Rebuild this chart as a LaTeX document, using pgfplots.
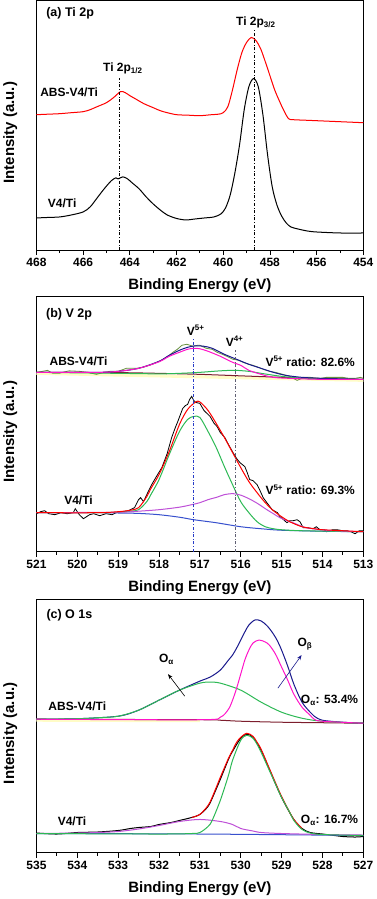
\documentclass[border=0pt]{standalone}
\usepackage{fontspec}
\setmainfont{Liberation Sans}
\usepackage{pgfplots}
\pgfplotsset{compat=1.18}
\usetikzlibrary{arrows.meta}

\definecolor{fitgreen}{RGB}{45,185,85}
\definecolor{fitmag}{RGB}{255,20,200}
\definecolor{fitviolet}{RGB}{190,80,215}
\definecolor{fitnavy}{RGB}{25,25,140}
\definecolor{basered}{RGB}{125,30,45}
\definecolor{baseblue}{RGB}{55,80,205}
\definecolor{rawolive}{RGB}{105,145,65}
\definecolor{lineblue}{RGB}{40,60,200}
\definecolor{linegray}{RGB}{95,95,115}

\tikzset{
  lab/.style={font=\bfseries\fontsize{12}{14}\selectfont},
  ttl/.style={font=\bfseries\fontsize{12.5}{15}\selectfont, anchor=west},
}
\pgfplotsset{
  xps/.style={
    scale only axis, width=326bp,
    x dir=reverse, clip=false,
    axis line style={line width=0.8bp},
    ytick=\empty, xtick pos=bottom, tick align=outside,
    major tick length=5bp, minor tick length=3bp,
    minor x tick num=1,
    every tick/.style={black, line width=0.8bp},
    tick label style={font=\bfseries\fontsize{12}{14}\selectfont},
    /pgf/number format/assume math mode=true,
    /pgf/number format/1000 sep={},
    xlabel={Binding Energy (eV)}, ylabel={Intensity (a.u.)},
    every axis x label/.style={at={(axis description cs:0.5,0)}, anchor=center,
      yshift=-36bp, font=\bfseries\fontsize{15}{18}\selectfont},
    every axis y label/.style={at={(axis description cs:-0.08,0.47)}, anchor=center,
      rotate=90, font=\bfseries\fontsize{15}{18}\selectfont},
    every axis plot/.append style={no marks, line width=1bp},
    ymin=0,
  },
}

\begin{document}
\begin{tikzpicture}

% (a) Ti 2p
\begin{axis}[xps, at={(0,601bp)}, height=249bp,
  xmin=454, xmax=468, ymax=249, xtick={454,456,...,468}]
\addplot[red, smooth] coordinates {
 (468,135) (467.5,135.5) (467,136) (466.5,137) (466,138) (465.7,140) (465.4,143)
 (465,147) (464.7,152) (464.4,158) (464.2,157) (464,154) (463.7,150) (463.4,146)
 (463,142) (462.7,139) (462.4,137) (462,135) (461.5,134.5) (461,134) (460.5,135)
 (460.2,135.5) (460,137) (459.8,143) (459.6,160) (459.4,180) (459.2,197) (459,207)
 (458.8,212) (458.6,209) (458.4,201) (458.2,188) (458,174) (457.8,160) (457.6,149)
 (457.4,139) (457.2,131) (457,130) (456.5,129.5) (456,129) (455,128) (454,127)};
\addplot[black, smooth] coordinates {
 (468,32) (467.5,32.5) (467,33) (466.5,35) (466,38) (465.7,43) (465.4,52) (465.1,61)
 (464.8,69) (464.6,72) (464.5,71) (464.3,73) (464.1,71) (463.9,67) (463.6,61) (463.3,53)
 (463,46) (462.7,40) (462.4,35) (462,31.5) (461.6,30) (461.2,31) (460.8,32) (460.4,33)
 (460.1,36) (459.9,42) (459.7,55) (459.5,77) (459.3,105) (459.1,140) (458.9,163)
 (458.7,171) (458.5,163) (458.3,135) (458.1,95) (457.9,63) (457.7,45) (457.5,34)
 (457.3,27) (457.1,23) (456.8,21) (456.4,19) (456,18) (455,17) (454,17)};
\draw[black, dash dot, line width=0.7bp] (axis cs:464.45,0) -- (axis cs:464.45,172);
\draw[black, dash dot, line width=0.7bp] (axis cs:458.65,0) -- (axis cs:458.65,219);
\node[ttl] at (axis cs:467.73,236) {(a) Ti 2p};
\node[lab] at (axis cs:466.6,157) {ABS-V4/Ti};
\node[lab] at (axis cs:466.9,47) {V4/Ti};
\node[lab] at (axis cs:464.3,181) {Ti 2p\textsubscript{1/2}};
\node[lab] at (axis cs:458.6,227) {Ti 2p\textsubscript{3/2}};
\end{axis}

% (b) V 2p
\begin{axis}[xps, at={(0,300bp)}, height=255bp,
  xmin=513, xmax=521, ymax=255, xtick={513,514,...,521}]
\addplot[yellow!22, line width=3bp] coordinates {(521,178) (513,171)};
\addplot[rawolive, line width=0.8bp] coordinates {
 (521,179) (520.85,180) (520.73,181) (520.6,178) (520.45,178) (520.36,179) (520.2,180.5)
 (519.95,180) (519.75,179) (519.53,177) (519.35,179) (519.2,180) (519,180) (518.8,183)
 (518.55,183) (518.4,184) (518.23,186) (518.05,189) (517.9,192) (517.75,196) (517.66,199)
 (517.55,202) (517.44,206) (517.32,207) (517.17,205) (517.05,206) (517,206) (516.85,203)
 (516.7,202) (516.58,199) (516.45,197) (516.34,195) (516.19,192) (516.05,191) (515.94,189)
 (515.8,187) (515.7,186) (515.6,184.5) (515.45,182) (515.3,180) (515.15,179) (514.97,177)
 (514.8,175) (514.62,171) (514.45,174) (514.3,174) (514.06,173) (513.9,174) (513.75,174)
 (513.5,174) (513.35,173) (513.2,173) (513.07,174) (513,173)};
\addplot[basered, smooth] coordinates {
 (521,179) (519,178.7) (518,178) (517,177) (516,175.5) (515,174) (514.5,173) (514,172.5) (513,172)};
\addplot[fitgreen, smooth] coordinates {
 (521,179) (519,178) (518,177.5) (517.5,178) (517,179) (516.5,180.5) (516.15,181)
 (515.8,180) (515.5,178) (515,175) (514.5,173) (514,172.5) (513,172)};
\addplot[fitnavy, smooth] coordinates {
 (521,179) (519.5,179) (519,180) (518.5,183) (518,190) (517.75,196) (517.5,201)
 (517.3,204) (517.1,205.5) (516.9,205) (516.7,203) (516.4,197) (516.1,192) (515.8,187)
 (515.5,183) (515.2,179) (514.9,176) (514.5,174) (514,173) (513,172)};
\addplot[fitmag, smooth] coordinates {
 (521,179) (519.5,179) (519,180) (518.5,183) (518,189.5) (517.75,195) (517.5,199)
 (517.3,202) (517.15,203) (517,202.5) (516.8,200) (516.5,195) (516.2,189) (516,186)
 (515.8,181) (515.5,177) (515.2,174) (514.8,173) (514,172) (513,172)};
% V4/Ti
\addplot[black, line width=0.8bp] coordinates {
 (521,38) (520.9,40) (520.8,41) (520.7,38) (520.55,37) (520.4,39) (520.25,38) (520.1,39)
 (520.05,43) (519.95,37) (519.85,33) (519.7,37) (519.6,38) (519.45,36) (519.3,38)
 (519.15,37) (519.05,39) (518.9,40) (518.75,41) (518.6,44) (518.5,52) (518.45,54)
 (518.38,50) (518.3,57) (518.18,67) (518.05,76) (517.93,84) (517.8,98) (517.69,114)
 (517.6,124) (517.54,130) (517.42,143) (517.35,146) (517.3,147) (517.25,152) (517.2,155)
 (517.15,151) (517.1,149) (517,148) (516.9,141) (516.75,135) (516.65,128) (516.58,125)
 (516.5,119) (516.39,114) (516.3,107) (516.19,99) (516.1,93) (516.02,89) (515.9,85)
 (515.85,80) (515.78,72) (515.7,71) (515.6,67) (515.55,63) (515.45,54) (515.36,49)
 (515.23,42) (515.1,39) (515.04,35) (514.95,32) (514.87,29) (514.8,31) (514.72,31)
 (514.62,32) (514.55,30) (514.47,24) (514.35,24) (514.23,23) (514.15,25) (514.06,22)
 (513.95,22) (513.9,20) (513.75,22) (513.64,22) (513.5,21) (513.4,21) (513.3,20)
 (513.2,18) (513.1,21) (513,21)};
\addplot[baseblue, smooth] coordinates {
 (521,39) (519.5,39) (519,38.7) (518.5,38.3) (518,37) (517.5,34.5) (517.15,32)
 (516.6,29) (516,25) (515.5,23) (515,21.5) (514,20.5) (513,20)};
\addplot[fitgreen, smooth] coordinates {
 (521,39) (519.5,39) (519,39.5) (518.7,40.5) (518.5,42) (518.3,50) (518.2,57) (518,72)
 (517.75,97) (517.5,120) (517.3,132) (517.15,135) (517,134) (516.8,120) (516.6,104)
 (516.4,85) (516.2,67) (516,50) (515.8,39) (515.6,30) (515.4,25) (515.2,23) (515,22)
 (514.5,21) (513,20)};
\addplot[fitviolet, smooth] coordinates {
 (521,39) (519,39.5) (518.5,40.5) (518,42) (517.5,44.5) (517.2,47) (517,49) (516.8,52)
 (516.58,54.5) (516.4,57) (516.19,58) (516,56.5) (515.8,53) (515.6,48.5) (515.36,42)
 (515.2,38) (515.04,34) (514.8,30) (514.72,29) (514.4,24) (514,22) (513.7,21) (513,20)};
\addplot[red, smooth] coordinates {
 (521,39) (519.5,39) (519,40) (518.7,41.5) (518.5,44) (518.3,55) (518.2,63) (518,77)
 (517.75,100) (517.5,127) (517.3,142) (517.1,149.5) (517,149.5) (516.8,141) (516.6,128)
 (516.4,114) (516.2,99) (516,84) (515.8,70) (515.6,59) (515.4,49) (515.2,41) (515,35)
 (514.8,30) (514.5,25) (514.2,23) (514,22) (513.5,21) (513,20)};
\draw[lineblue, dash dot, line width=0.7bp] (axis cs:517.15,0) -- (axis cs:517.15,213);
\draw[linegray, dash dot, line width=0.7bp] (axis cs:516.12,0) -- (axis cs:516.12,201);
\node[ttl] at (axis cs:520.85,237) {(b) V 2p};
\node[lab] at (axis cs:519.97,190) {ABS-V4/Ti};
\node[lab] at (axis cs:519.97,51) {V4/Ti};
\node[lab] at (axis cs:517.1,221) {V\textsuperscript{5+}};
\node[lab] at (axis cs:516.15,210) {V\textsuperscript{4+}};
\node[lab, anchor=east] at (axis cs:513.12,190) {V\textsuperscript{5+} ratio: 82.6\%};
\node[lab, anchor=east] at (axis cs:513.12,62) {V\textsuperscript{5+} ratio: 69.3\%};
\end{axis}

% (c) O 1s
\begin{axis}[xps, at={(0,0)}, height=253bp,
  xmin=527, xmax=535, ymax=253, xtick={527,528,...,535}]
\addplot[yellow!22, line width=3bp] coordinates {(535,132) (531,131.5)};
\addplot[basered, smooth] coordinates {
 (535,133) (531,132.5) (530.5,132) (530,131) (529,130) (528,129.5) (527,129)};
\addplot[fitnavy, smooth] coordinates {
 (535,133) (534,133.5) (533,136) (532.5,142) (532,152) (531.5,162) (531,171)
 (530.75,175) (530.5,182) (530.3,192) (530.2,197) (530.1,204) (530,212) (529.9,220)
 (529.8,227) (529.65,232) (529.5,231) (529.35,226) (529.2,218) (529.1,211) (529,202)
 (528.85,186) (528.7,168) (528.5,150) (528.3,140) (528.2,136) (528,132) (527.5,130) (527,129)};
\addplot[fitgreen, smooth] coordinates {
 (535,133) (534,133.5) (533.5,134.5) (533,136) (532.5,142) (532,152) (531.5,162)
 (531,169) (530.75,170) (530.5,169) (530,162) (529.5,150) (529,140) (528.5,134)
 (528,131) (527,129)};
\addplot[fitmag, smooth] coordinates {
 (535,133) (531,132.5) (530.5,135) (530.3,143) (530.2,152) (530.1,164) (530,178)
 (529.9,192) (529.8,202) (529.7,209) (529.55,212) (529.4,210) (529.3,207) (529.15,198)
 (529,185) (528.85,172) (528.7,158) (528.5,145) (528.3,137) (528.2,133) (528,131) (527,129)};
% V4/Ti
\addplot[black, smooth] coordinates {
 (535,19.5) (534.5,18.5) (534,20) (533.5,20.5) (533,22) (532.7,24) (532.5,25) (532.2,26)
 (532,28) (531.7,30) (531.5,32) (531.2,35) (531,38) (530.8,46) (530.7,54) (530.5,73)
 (530.3,93) (530.2,101) (530,114) (529.85,118) (529.7,115) (529.5,102) (529.3,83)
 (529,55) (528.7,33) (528.5,24) (528.3,20) (528,18.5) (527.7,17) (527.5,16) (527.2,15.5) (527,16)};
\addplot[baseblue, smooth] coordinates {(535,19) (531,18.5) (527,17)};
\addplot[fitviolet, smooth] coordinates {
 (535,19) (534,19.5) (533.5,20) (533,21) (532.5,23.5) (532,27) (531.5,31) (531,33)
 (530.5,31) (530.2,28) (530,24) (529.7,21.5) (529.5,20) (529,19) (528,18) (527,17.5)};
\addplot[red, smooth] coordinates {
 (531.2,35) (531,38) (530.8,47) (530.7,55)
 (530.5,75) (530.3,94) (530.2,102) (530.1,110) (530,115) (529.85,119) (529.7,116)
 (529.6,110) (529.5,103) (529.3,84) (529.1,65) (529,56) (528.8,40) (528.7,33) (528.5,24)};
\addplot[fitgreen, smooth] coordinates {
 (535,19) (532,18.5) (531.2,19) (531,20) (530.8,26) (530.7,32) (530.5,52) (530.3,77)
 (530.2,92) (530,112) (529.85,117) (529.7,114) (529.6,108) (529.5,100) (529.3,82)
 (529.1,64) (529,55) (528.8,40) (528.7,32) (528.5,23) (528.3,19.5) (528,18) (527,17)};
\draw[-{Stealth[length=5bp]}, black, line width=0.6bp] (axis cs:531.37,156) -- (axis cs:531.78,178);
\draw[-{Stealth[length=5bp]}, fitnavy, line width=0.6bp] (axis cs:529.09,164) -- (axis cs:528.51,197);
\node[ttl] at (axis cs:534.84,237) {(c) O 1s};
\node[lab] at (axis cs:534.0,146) {ABS-V4/Ti};
\node[lab] at (axis cs:534.13,31) {V4/Ti};
\node[lab] at (axis cs:531.82,193) {O\textsubscript{α}};
\node[lab] at (axis cs:528.43,208) {O\textsubscript{β}};
\node[lab, anchor=east] at (axis cs:527.04,152) {O\textsubscript{α}: 53.4\%};
\node[lab, anchor=east] at (axis cs:527.04,32) {O\textsubscript{α}: 16.7\%};
\end{axis}

\end{tikzpicture}
\end{document}
